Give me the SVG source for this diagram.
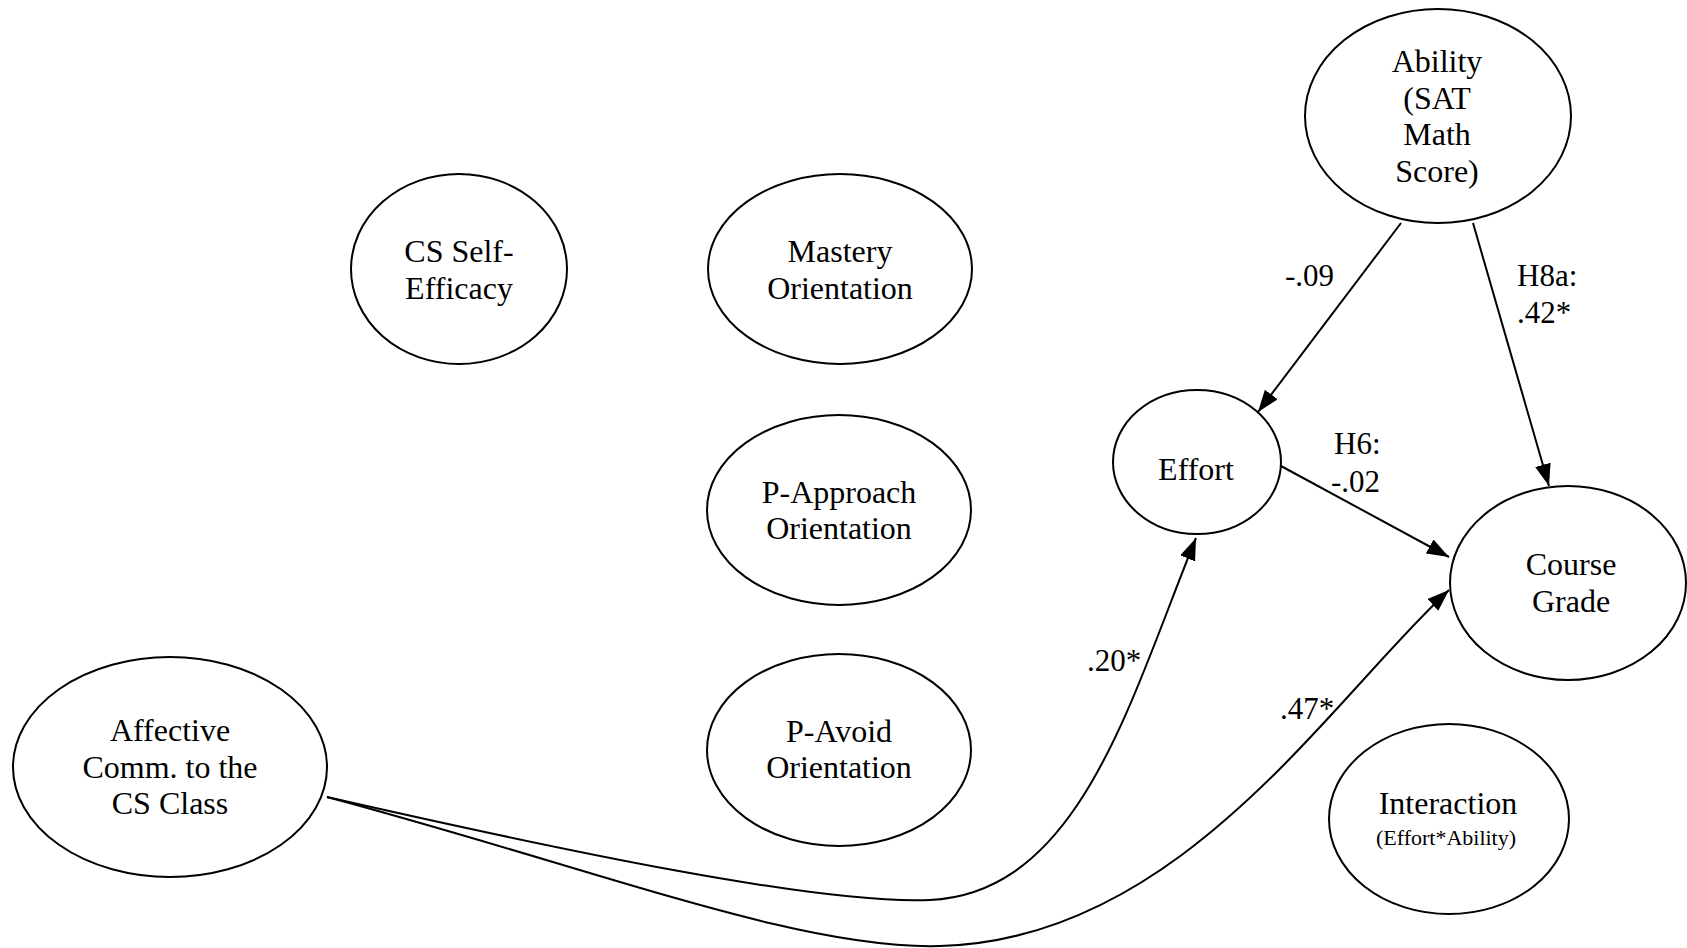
<svg xmlns="http://www.w3.org/2000/svg" width="1687" height="948" viewBox="0 0 1687 948">
<style>
.n{fill:#fff;stroke:#000;stroke-width:2}
.t{font-family:"Liberation Serif","Times New Roman",serif;font-size:32px;fill:#000;text-anchor:middle}
.s{font-family:"Liberation Serif","Times New Roman",serif;font-size:22px;fill:#000;text-anchor:middle}
.l{font-family:"Liberation Serif","Times New Roman",serif;font-size:31px;fill:#000}
.c{fill:none;stroke:#000;stroke-width:2}
</style>
<defs>
<marker id="ah" markerUnits="userSpaceOnUse" markerWidth="24" markerHeight="18" refX="22" refY="8" orient="auto">
<path d="M0,0 L22,8 L0,16 Z" fill="#000"/>
</marker>
</defs>
<rect width="1687" height="948" fill="#fff"/>
<g id="connectors">
<line class="c" x1="1401" y1="223" x2="1258" y2="412" marker-end="url(#ah)"/>
<line class="c" x1="1473" y1="223" x2="1549" y2="486" marker-end="url(#ah)"/>
<line class="c" x1="1281" y1="466" x2="1449" y2="557" marker-end="url(#ah)"/>
<path class="c" d="M327,797 C560,850 820,905 930,900 C1080,893 1130,700 1196,538" marker-end="url(#ah)"/>
<path class="c" d="M327,797 C600,870 800,950 940,946 C1180,940 1330,700 1449,590" marker-end="url(#ah)"/>
<text class="l" x="1285" y="286">-.09</text>
<text class="l" x="1517" y="286">H8a:</text>
<text class="l" x="1517" y="323">.42*</text>
<text class="l" x="1334" y="454">H6:</text>
<text class="l" x="1331" y="492">-.02</text>
<text class="l" x="1087" y="671">.20*</text>
<text class="l" x="1280" y="719">.47*</text>
</g>
<g id="ability">
<ellipse class="n" cx="1438" cy="116" rx="133" ry="107"/>
<text class="t" x="1437" y="72">Ability</text>
<text class="t" x="1437" y="109">(SAT</text>
<text class="t" x="1437" y="145">Math</text>
<text class="t" x="1437" y="182">Score)</text>
</g>
<g id="self-efficacy">
<ellipse class="n" cx="459" cy="269" rx="108" ry="95"/>
<text class="t" x="459" y="262">CS Self-</text>
<text class="t" x="459" y="299">Efficacy</text>
</g>
<g id="mastery">
<ellipse class="n" cx="840" cy="269" rx="132" ry="95"/>
<text class="t" x="840" y="262">Mastery</text>
<text class="t" x="840" y="299">Orientation</text>
</g>
<g id="p-approach">
<ellipse class="n" cx="839" cy="510" rx="132" ry="95"/>
<text class="t" x="839" y="503">P-Approach</text>
<text class="t" x="839" y="539">Orientation</text>
</g>
<g id="p-avoid">
<ellipse class="n" cx="839" cy="750" rx="132" ry="96"/>
<text class="t" x="839" y="742">P-Avoid</text>
<text class="t" x="839" y="778">Orientation</text>
</g>
<g id="affective">
<ellipse class="n" cx="170" cy="767" rx="157" ry="110"/>
<text class="t" x="170" y="741">Affective</text>
<text class="t" x="170" y="778">Comm. to the</text>
<text class="t" x="170" y="814">CS Class</text>
</g>
<g id="effort">
<ellipse class="n" cx="1197" cy="462" rx="84" ry="72"/>
<text class="t" x="1196" y="480">Effort</text>
</g>
<g id="course-grade">
<ellipse class="n" cx="1568" cy="583" rx="118" ry="97"/>
<text class="t" x="1571" y="575">Course</text>
<text class="t" x="1571" y="612">Grade</text>
</g>
<g id="interaction">
<ellipse class="n" cx="1449" cy="819" rx="120" ry="95"/>
<text class="t" x="1448" y="814">Interaction</text>
<text class="s" x="1446" y="845">(Effort*Ability)</text>
</g>
</svg>
